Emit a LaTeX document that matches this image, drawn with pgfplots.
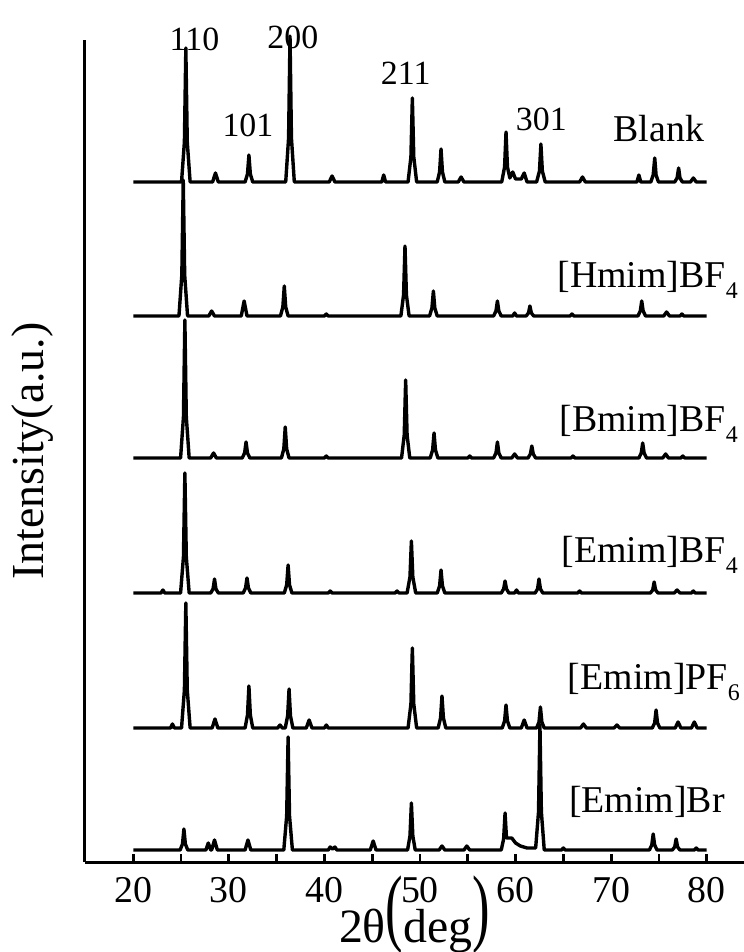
\documentclass[border=0pt]{standalone}
\usepackage{pgfplots}
\pgfplotsset{compat=1.18}
\usepackage{fontspec}
\setmainfont{Liberation Serif}

\newcommand{\idx}[1]{\fontsize{34}{34}\selectfont #1}
\newcommand{\name}[2]{\fontsize{38}{38}\selectfont #1\raisebox{-0.28em}{\fontsize{24}{24}\selectfont #2}}

\begin{document}
\begin{tikzpicture}
\begin{axis}[
    scale only axis,
    width=659bp, height=822bp,
    xmin=14.95, xmax=83.9,
    ymin=0, ymax=822,
    axis lines*=left,
    axis line style={line width=3bp},
    ytick=\empty,
    xtick={20,30,...,80},
    minor xtick={25,35,...,75},
    tick align=inside,
    major tick length=8bp, minor tick length=8bp,
    every tick/.style={black, line width=2.8bp},
    /pgf/number format/assume math mode=true,
    xticklabel style={font=\fontsize{38}{38}\selectfont, yshift=-12bp},
    xlabel={\fontsize{48}{48}\selectfont 2θ\raisebox{7bp}{\scalebox{1.1}[1.8]{(}}deg\raisebox{7bp}{\scalebox{1.1}[1.8]{)}}},
    xlabel style={at={(axis description cs:0.5,0)}, anchor=base, yshift=-80bp},
    ylabel={\fontsize{46}{46}\selectfont Intensity(a.u.)},
    ylabel style={at={(axis description cs:0,0.5)}, anchor=center, yshift=52bp},
    clip=false,
    trace/.style={black, line width=3.4bp, line join=round},
]

% Blank
\addplot[trace] table[x=t, y expr=\thisrow{I}+680] {
t I
20 0
25.05 0
25.35 40
25.5 134
25.65 40
25.95 0
28.3 0
28.6 9
28.9 0
31.7 0
31.95 8
32.1 27
32.25 8
32.5 0
35.95 0
36.25 44
36.4 146
36.55 44
36.85 0
40.5 0
40.8 6
41.1 0
46.0 0
46.2 7
46.4 0
48.75 0
49.05 25
49.2 84
49.35 25
49.65 0
51.8 0
52.05 10
52.2 33
52.35 10
52.6 0
54.0 0
54.3 5
54.6 0
58.55 0
58.85 15
59.0 50
59.15 15
59.4 4
59.7 10
60.0 3
60.6 3
60.9 9
61.2 0
62.2 0
62.5 11
62.65 38
62.8 11
63.1 0
66.7 0
67.0 5
67.3 0
72.7 0
72.9 7
73.1 0
74.15 0
74.4 7
74.56 24
74.7 7
74.95 0
76.65 0
76.9 4
77.06 14
77.2 4
77.45 0
78.3 0
78.6 4
78.9 0
80 0
};

% [Hmim]BF4
\addplot[trace] table[x=t, y expr=\thisrow{I}+546] {
t I
20 0
24.78 0
25.08 41
25.23 136
25.38 41
25.68 0
27.9 0
28.2 5
28.5 0
31.3 0
31.6 15
31.9 0
35.4 0
35.65 9
35.8 30
35.95 9
36.2 0
40.0 0
40.2 2
40.4 0
48.0 0
48.28 21
48.43 70
48.58 21
48.86 0
51.0 0
51.25 8
51.4 25
51.55 8
51.8 0
57.7 0
57.95 5
58.1 15
58.25 5
58.5 0
59.7 0
59.9 3
60.1 0
61.1 0
61.35 3
61.5 10
61.65 3
61.9 0
65.7 0
65.9 2
66.1 0
72.8 0
73.05 5
73.2 15
73.35 5
73.6 0
75.5 0
75.8 4
76.1 0
77.2 0
77.4 2
77.6 0
80 0
};

% [Bmim]BF4
\addplot[trace] table[x=t, y expr=\thisrow{I}+404] {
t I
20 0
24.95 0
25.25 41
25.4 138
25.55 41
25.85 0
28.1 0
28.4 5
28.7 0
31.4 0
31.65 5
31.8 16
31.95 5
32.2 0
35.5 0
35.75 9
35.9 31
36.05 9
36.3 0
40.0 0
40.2 2
40.4 0
48.07 0
48.35 23
48.5 78
48.65 23
48.93 0
51.07 0
51.32 8
51.47 25
51.62 8
51.87 0
55.0 0
55.2 2
55.4 0
57.7 0
57.95 5
58.1 16
58.25 5
58.5 0
59.6 0
59.9 4
60.2 0
61.3 0
61.55 4
61.7 12
61.85 4
62.1 0
65.8 0
66.0 2
66.2 0
72.9 0
73.15 5
73.3 15
73.45 5
73.7 0
75.4 0
75.7 4
76.0 0
77.3 0
77.5 2
77.7 0
80 0
};

% [Emim]BF4
\addplot[trace] table[x=t, y expr=\thisrow{I}+269] {
t I
20 0
22.9 0
23.1 3
23.3 0
24.95 0
25.25 36
25.4 120
25.55 36
25.85 0
28.1 0
28.35 4
28.5 14
28.65 4
28.9 0
31.5 0
31.75 5
31.9 15
32.05 5
32.3 0
35.8 0
36.05 8
36.2 28
36.35 8
36.6 0
40.4 0
40.6 2
40.8 0
47.4 0
47.6 2
47.8 0
48.65 0
48.95 16
49.1 52
49.25 16
49.55 0
51.8 0
52.05 7
52.2 23
52.35 7
52.6 0
58.5 0
58.75 4
58.9 12
59.05 4
59.3 0
59.9 0
60.1 3
60.3 0
62.05 0
62.3 4
62.45 14
62.6 4
62.85 0
66.5 0
66.7 2
66.9 0
74.1 0
74.35 3
74.5 11
74.65 3
74.9 0
76.6 0
76.9 3
77.2 0
78.4 0
78.6 2
78.8 0
80 0
};

% [Emim]PF6
\addplot[trace] table[x=t, y expr=\thisrow{I}+134] {
t I
20 0
23.9 0
24.1 4
24.3 0
25.05 0
25.35 38
25.5 125
25.65 38
25.95 0
28.25 0
28.55 9
28.85 0
31.7 0
31.95 13
32.1 42
32.25 13
32.5 0
35.1 0
35.35 3
35.6 0
35.9 0
36.15 12
36.3 39
36.45 12
36.7 0
38.1 0
38.4 8
38.7 0
40.0 0
40.2 3
40.4 0
48.75 0
49.05 24
49.2 80
49.35 24
49.65 0
51.9 0
52.15 10
52.3 32
52.45 10
52.7 0
58.6 0
58.85 7
59.0 23
59.15 7
59.4 0
60.6 0
60.9 8
61.2 0
62.2 0
62.45 6
62.6 21
62.75 6
63.0 0
66.8 0
67.1 4
67.4 0
70.3 0
70.6 3
70.9 0
74.3 0
74.55 5
74.7 18
74.85 5
75.1 0
76.7 0
77.0 6
77.3 0
78.4 0
78.7 6
79.0 0
80 0
};

% [Emim]Br
\addplot[trace] table[x=t, y expr=\thisrow{I}+12] {
t I
20 0
24.9 0
25.15 6
25.3 21
25.45 6
25.7 0
27.6 0
27.85 7
28.1 0
28.2 0
28.5 10
28.8 0
31.7 0
32.0 10
32.3 0
35.75 0
36.05 34
36.2 113
36.35 34
36.65 0
40.4 0
40.6 3
40.85 1
41.1 3
41.3 0
44.8 0
45.1 9
45.4 0
48.7 0
48.95 14
49.1 47
49.25 14
49.5 0
52.0 0
52.3 4
52.6 0
54.6 0
54.9 4
55.2 0
58.5 0
58.75 11
58.9 37
59.05 12
59.3 12
59.6 12
60.0 7
60.5 4
61.2 2
62.1 2
62.4 38
62.55 125
62.7 38
63.0 0
64.8 0
65.0 2
65.2 0
74.0 0
74.25 5
74.4 16
74.55 5
74.8 0
76.4 0
76.65 3
76.8 11
76.95 3
77.2 0
78.7 0
78.9 2
79.1 0
80 0
};

\node at (axis cs:26.4,823) {\idx{110}};
\node at (axis cs:36.7,825) {\idx{200}};
\node at (axis cs:32.0,737) {\idx{101}};
\node at (axis cs:48.5,789) {\idx{211}};
\node at (axis cs:62.7,743) {\idx{301}};
\node at (axis cs:75.0,733) {\fontsize{38}{38}\selectfont Blank};
\node[anchor=base east, inner sep=0pt] at (axis cs:83.27,574) {\name{[Hmim]BF}{4}};
\node[anchor=base east, inner sep=0pt] at (axis cs:83.27,430) {\name{[Bmim]BF}{4}};
\node[anchor=base east, inner sep=0pt] at (axis cs:83.27,299) {\name{[Emim]BF}{4}};
\node[anchor=base east, inner sep=0pt] at (axis cs:83.48,172) {\name{[Emim]PF}{6}};
\node[anchor=base east, inner sep=0pt] at (axis cs:81.9,49) {\name{[Emim]Br}{}};
\end{axis}
\pgfresetboundingbox
\path ([xshift=-85bp, yshift=-90bp]current axis.south west) rectangle ([yshift=40bp]current axis.north east);
\end{tikzpicture}
\end{document}
